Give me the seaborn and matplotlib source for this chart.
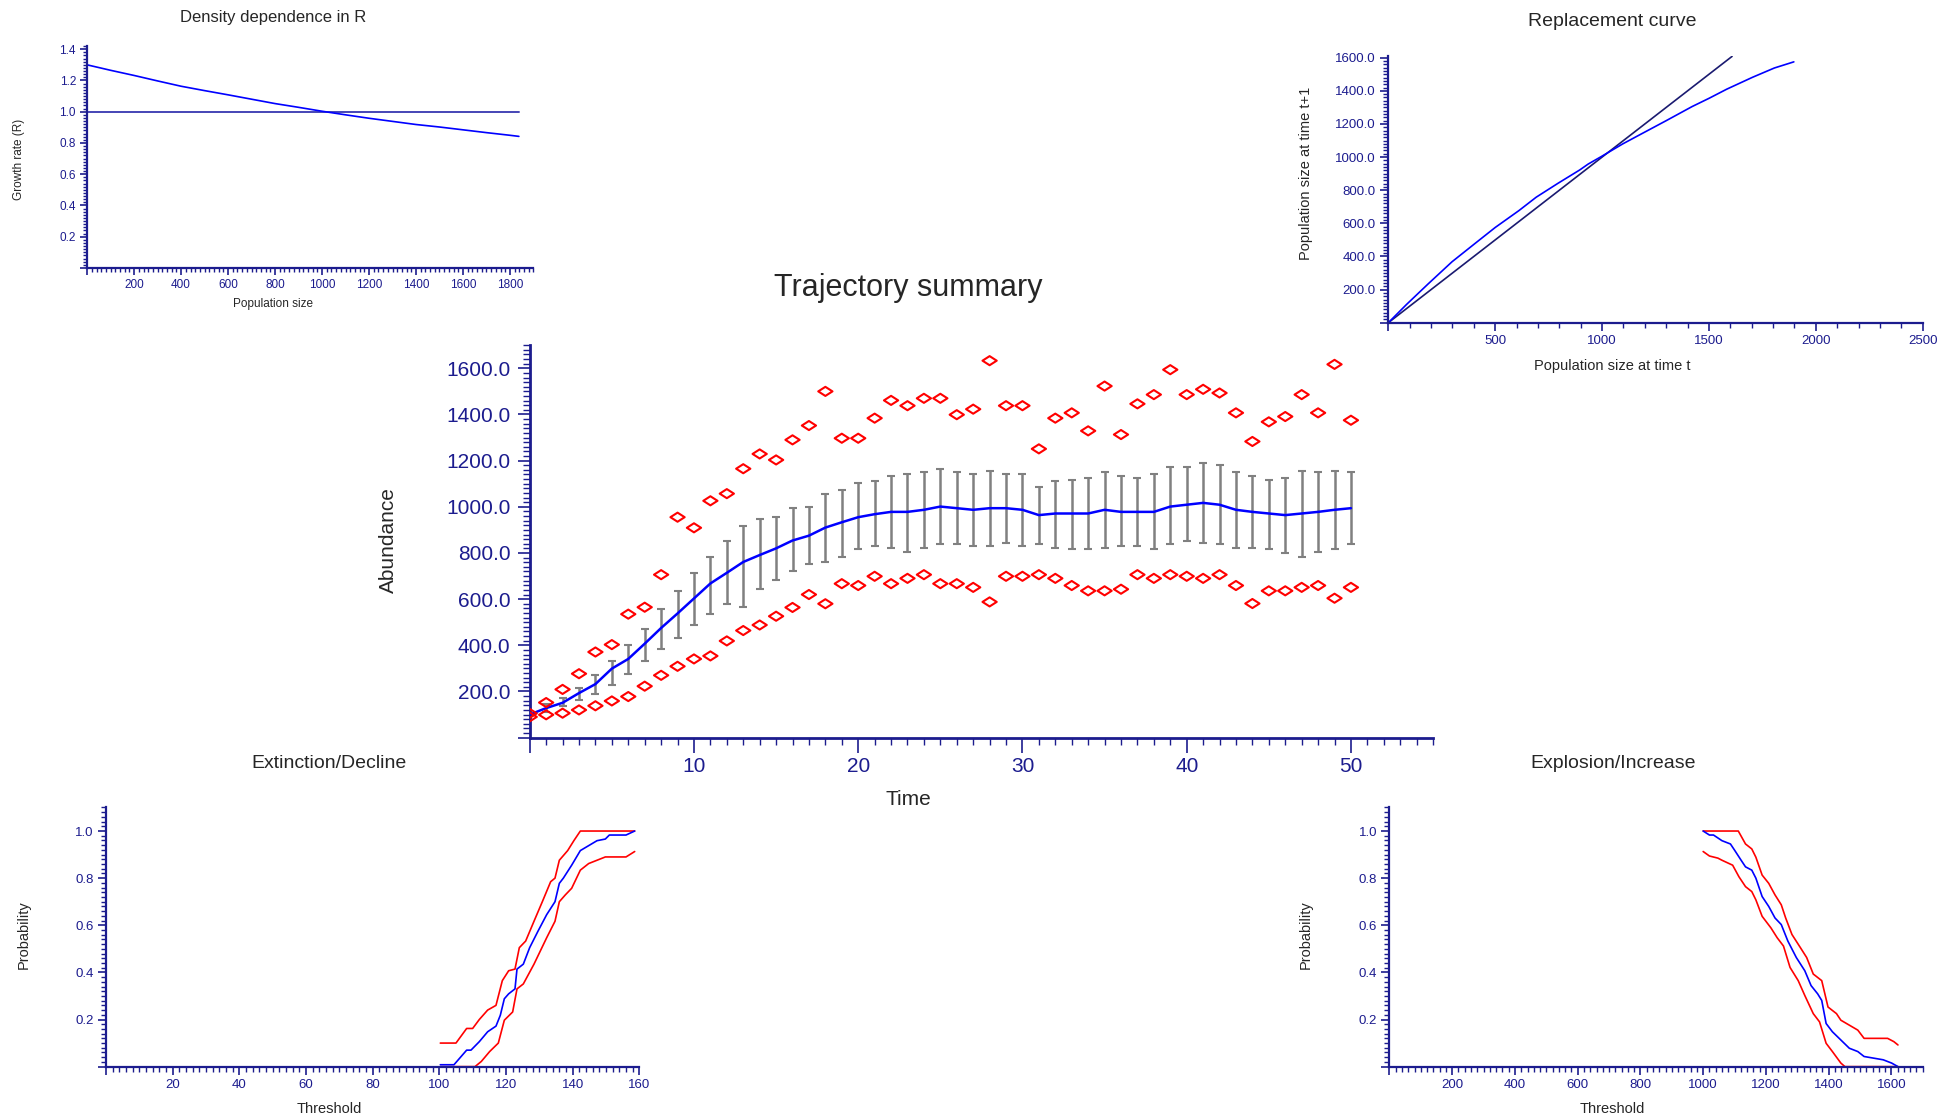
import numpy as np
import pandas as pd
import matplotlib
matplotlib.use("Agg")
import matplotlib.pyplot as plt
import seaborn as sns
from matplotlib.ticker import MultipleLocator, FuncFormatter
from matplotlib.path import Path

# ---------------- data : trajectory summary ----------------
time = list(range(51))
mean_abund = [100, 128, 151, 193, 232, 299, 341, 407, 475, 538, 603, 668, 714, 761, 791, 820, 854, 875, 910, 933,
              955, 968, 978, 978, 987, 1001, 994, 987, 994, 994, 987, 964, 971, 971, 971, 987, 978, 978, 978, 1001,
              1009, 1017, 1009, 987, 978, 971, 964, 971, 978, 987, 994]
err_high = [100, 146, 172, 216, 270, 332, 400, 472, 558, 636, 714, 784, 854, 917, 949, 955, 996, 1001, 1057, 1072,
            1103, 1110, 1133, 1141, 1151, 1165, 1149, 1142, 1157, 1142, 1142, 1087, 1110, 1117, 1126, 1149, 1133, 1126,
            1142, 1172, 1172, 1188, 1180, 1149, 1133, 1117, 1126, 1157, 1149, 1157, 1149]
err_low = [100, 110, 135, 161, 190, 230, 277, 332, 386, 432, 487, 535, 581, 564, 643, 683, 722, 752, 759, 784,
           816, 830, 823, 806, 823, 838, 838, 830, 830, 845, 830, 838, 823, 816, 816, 823, 830, 830, 816, 838,
           854, 845, 838, 823, 823, 816, 799, 784, 806, 816, 838]
max_abund = [105, 152, 209, 277, 371, 403, 535, 565, 706, 955, 909, 1026, 1057, 1165, 1229, 1203, 1290, 1352, 1500,
             1297, 1297, 1384, 1461, 1438, 1470, 1470, 1399, 1423, 1633, 1438, 1438, 1251, 1384, 1407, 1329, 1523,
             1313, 1446, 1486, 1594, 1486, 1509, 1493, 1407, 1283, 1368, 1391, 1486, 1407, 1617, 1375]
min_abund = [90, 99, 106, 120, 138, 159, 178, 223, 270, 309, 341, 354, 419, 464, 488, 526, 564, 620, 580, 667,
             659, 699, 667, 690, 706, 667, 667, 651, 588, 699, 699, 706, 690, 659, 636, 636, 643, 706, 690, 706,
             699, 690, 706, 659, 581, 636, 636, 651, 659, 604, 651]

# ---------------- data : density dependence ----------------
dd_pop = [0, 100, 200, 300, 400, 500, 600, 700, 800, 900, 1000, 1100, 1200, 1300, 1400, 1500, 1600, 1700, 1800, 1838]
dd_R = [1.30, 1.265, 1.232, 1.197, 1.163, 1.135, 1.108, 1.080, 1.052, 1.028, 1.003, 0.980, 0.958, 0.938, 0.918,
        0.902, 0.884, 0.866, 0.849, 0.842]
dd_ref_pop = [0, 1838]
dd_ref_R = [1.0, 1.0]

# ---------------- data : replacement curve ----------------
rep_nt = [0, 85, 186, 298, 409, 500, 611, 692, 794, 895, 935, 996, 1097, 1178, 1300, 1421, 1502, 1583, 1704, 1806, 1897]
rep_nt1 = [0, 110, 234, 368, 482, 575, 677, 758, 842, 922, 958, 1003, 1080, 1136, 1220, 1305, 1356, 1410, 1482, 1538, 1575]
rep_id_x = [0, 500, 1000, 1608]
rep_id_y = [0, 500, 1000, 1608]

# ---------------- data : extinction / decline ----------------
ext_mid_x = [100.3, 104.4, 108.2, 109.5, 112, 114.5, 117, 118.3, 119.5, 120.8, 122.7, 123.3, 125.2, 127.1, 129.6,
             132.2, 134.7, 136, 137.2, 139.7, 142.3, 144.8, 147.3, 149.8, 151, 156, 158.6]
ext_mid_y = [0.008, 0.008, 0.07, 0.07, 0.106, 0.148, 0.172, 0.218, 0.288, 0.309, 0.33, 0.414, 0.435, 0.505, 0.575,
             0.645, 0.70, 0.778, 0.80, 0.855, 0.917, 0.938, 0.959, 0.966, 0.983, 0.983, 1.0]
ext_up_x = [100.3, 105, 108.2, 110, 112, 114.5, 117, 118.9, 120.8, 122.7, 124, 125.9, 128.4, 130.9, 133.4, 134.7,
            136, 138.5, 140.4, 142.3, 158.6]
ext_up_y = [0.1, 0.1, 0.162, 0.162, 0.2, 0.24, 0.26, 0.365, 0.407, 0.414, 0.505, 0.533, 0.617, 0.70, 0.785, 0.80,
            0.876, 0.917, 0.96, 1.0, 1.0]
ext_lo_x = [100.3, 110.7, 112.6, 115.1, 117.7, 119.5, 122, 123.3, 125.2, 128.4, 132.2, 134.7, 136, 137.8, 139.7,
            142.3, 144.8, 147.3, 149.8, 156, 158.6]
ext_lo_y = [0, 0, 0.022, 0.064, 0.10, 0.197, 0.232, 0.33, 0.351, 0.435, 0.547, 0.617, 0.70, 0.729, 0.757, 0.834,
            0.862, 0.876, 0.89, 0.89, 0.913]

# ---------------- data : explosion / increase ----------------
exp_mid_x = [1000, 1020, 1033, 1060, 1087, 1101, 1121, 1135, 1155, 1168, 1188, 1209, 1229, 1249, 1270, 1297, 1324,
             1344, 1365, 1378, 1392, 1412, 1439, 1466, 1493, 1513, 1574, 1601, 1621]
exp_mid_y = [1.0, 0.983, 0.983, 0.959, 0.945, 0.917, 0.876, 0.848, 0.834, 0.80, 0.722, 0.68, 0.631, 0.603, 0.533,
             0.463, 0.407, 0.344, 0.309, 0.281, 0.183, 0.148, 0.113, 0.078, 0.064, 0.043, 0.029, 0.015, 0.0]
exp_up_x = [1000, 1112, 1135, 1155, 1168, 1188, 1209, 1229, 1249, 1263, 1283, 1310, 1330, 1351, 1378, 1398, 1425,
            1439, 1466, 1493, 1513, 1588, 1608, 1621]
exp_up_y = [1.0, 1.0, 0.945, 0.924, 0.889, 0.813, 0.778, 0.729, 0.687, 0.631, 0.561, 0.505, 0.463, 0.393, 0.365,
            0.253, 0.225, 0.197, 0.176, 0.155, 0.12, 0.12, 0.106, 0.092]
exp_lo_x = [1000, 1020, 1047, 1060, 1094, 1114, 1135, 1155, 1168, 1188, 1216, 1236, 1256, 1277, 1303, 1324, 1351,
            1371, 1392, 1412, 1439, 1452, 1621]
exp_lo_y = [0.913, 0.894, 0.885, 0.876, 0.855, 0.806, 0.764, 0.743, 0.708, 0.638, 0.589, 0.547, 0.512, 0.421, 0.365,
            0.302, 0.225, 0.19, 0.099, 0.064, 0.015, 0.0, 0.0]

# ---------------- styling ----------------
sns.set_theme(style="ticks")
plt.rcParams['font.family'] = ['Liberation Sans', 'DejaVu Sans']

NAVY = '#1c1c8e'
BLUE = '#0000ff'
RED = '#ff0000'
GRAY = '#808080'

fig = plt.figure(figsize=(19.54, 11.19), dpi=100)
fig.patch.set_facecolor('white')


def fmt_factory(decimals):
    def f(v, p):
        if abs(v) < 1e-9:
            return ''
        return f'{v:.{decimals}f}'
    return FuncFormatter(f)


def style_axis(ax, xlim, ylim, xmaj, xmin, ymaj, ymin, xdec, ydec, fs, maj_len, min_len, lw=1.6):
    ax.set_xlim(*xlim)
    ax.set_ylim(*ylim)
    ax.set_facecolor('white')
    sns.despine(ax=ax)
    for s in ('left', 'bottom'):
        ax.spines[s].set_color(NAVY)
        ax.spines[s].set_linewidth(lw)
    ax.xaxis.set_major_locator(MultipleLocator(xmaj))
    ax.xaxis.set_minor_locator(MultipleLocator(xmin))
    ax.yaxis.set_major_locator(MultipleLocator(ymaj))
    ax.yaxis.set_minor_locator(MultipleLocator(ymin))
    ax.xaxis.set_major_formatter(fmt_factory(xdec))
    ax.yaxis.set_major_formatter(fmt_factory(ydec))
    ax.tick_params(which='major', direction='out', length=maj_len, width=1.2, color=NAVY,
                   labelcolor=NAVY, labelsize=fs, pad=3)
    ax.tick_params(which='minor', direction='out', length=min_len, width=1.0, color=NAVY)
    ax.set_xlabel('')
    ax.set_ylabel('')
    ax.grid(False)


# ---------------- top-left: density dependence ----------------
ax_dd = fig.add_axes([0.0446, 0.7606, 0.2284, 0.1982])
sns.lineplot(x=dd_ref_pop, y=dd_ref_R, ax=ax_dd, color='#4545b5', lw=1.4, estimator=None)
sns.lineplot(x=dd_pop, y=dd_R, ax=ax_dd, color=BLUE, lw=1.2, estimator=None)
style_axis(ax_dd, (0, 1900), (0, 1.42), 200, 20, 0.2, 0.02, 0, 1, 8.5, 5, 3)
fig.text(0.1397, 0.9844, 'Density dependence in R', ha='center', va='center', fontsize=12)
fig.text(0.1397, 0.7283, 'Population size', ha='center', va='center', fontsize=8.5)
fig.text(0.0096, 0.8575, 'Growth rate (R)', ha='center', va='center', rotation=90, fontsize=8.5)

# ---------------- top-right: replacement curve ----------------
ax_rep = fig.add_axes([0.7105, 0.7116, 0.2735, 0.2383])
sns.lineplot(x=rep_id_x, y=rep_id_y, ax=ax_rep, color='#1a1a70', lw=1.2, estimator=None, sort=False)
sns.lineplot(x=rep_nt, y=rep_nt1, ax=ax_rep, color=BLUE, lw=1.2, estimator=None, sort=False)
style_axis(ax_rep, (0, 2500), (0, 1610), 500, 100, 200, 20, 0, 1, 9.5, 6, 3.5)
fig.text(0.8253, 0.9810, 'Replacement curve', ha='center', va='center', fontsize=14)
fig.text(0.8253, 0.6726, 'Population size at time t', ha='center', va='center', fontsize=10.5)
fig.text(0.6684, 0.8452, 'Population size at time t+1', ha='center', va='center', rotation=90, fontsize=10.5)

# ---------------- main: trajectory summary ----------------
ax_m = fig.add_axes([0.2711, 0.3408, 0.4623, 0.3507])
diamond = Path([(-1, 0), (0, 0.64), (1, 0), (0, -0.64), (-1, 0)],
               [Path.MOVETO, Path.LINETO, Path.LINETO, Path.LINETO, Path.CLOSEPOLY])
m_arr = np.array(mean_abund, dtype=float)
lo_arr = np.array(err_low, dtype=float)
hi_arr = np.array(err_high, dtype=float)
ax_m.errorbar(time, m_arr, yerr=[m_arr - lo_arr, hi_arr - m_arr], fmt='none', ecolor=GRAY,
              elinewidth=1.8, capsize=3, capthick=1.5, zorder=2)
sns.lineplot(x=time, y=mean_abund, ax=ax_m, color=BLUE, lw=1.8, estimator=None, zorder=3)
sns.scatterplot(x=time, y=max_abund, ax=ax_m, marker=diamond, s=105, color=RED, facecolor='none',
                edgecolor=RED, linewidth=1.5, zorder=4)
sns.scatterplot(x=time, y=min_abund, ax=ax_m, marker=diamond, s=105, color=RED, facecolor='none',
                edgecolor=RED, linewidth=1.5, zorder=4)
style_axis(ax_m, (0, 55), (0, 1700), 10, 1, 200, 20, 0, 1, 15, 9, 5, lw=2.0)
ax_m.tick_params(axis='x', which='major', length=11, pad=3)
ax_m.tick_params(axis='y', which='major', pad=5)
fig.text(0.4650, 0.7428, 'Trajectory summary', ha='center', va='center', fontsize=22)
fig.text(0.4650, 0.2851, 'Time', ha='center', va='center', fontsize=15)
fig.text(0.1990, 0.5178, 'Abundance', ha='center', va='center', rotation=90, fontsize=15)

# ---------------- bottom-left: extinction / decline ----------------
ax_ext = fig.add_axes([0.0542, 0.0468, 0.2730, 0.2316])
sns.lineplot(x=ext_up_x, y=ext_up_y, ax=ax_ext, color=RED, lw=1.2, estimator=None, sort=False)
sns.lineplot(x=ext_lo_x, y=ext_lo_y, ax=ax_ext, color=RED, lw=1.2, estimator=None, sort=False)
sns.lineplot(x=ext_mid_x, y=ext_mid_y, ax=ax_ext, color=BLUE, lw=1.2, estimator=None, sort=False)
style_axis(ax_ext, (0, 160), (0, 1.1), 20, 2, 0.2, 0.02, 0, 1, 9.5, 6, 3.5)
fig.text(0.1684, 0.3174, 'Extinction/Decline', ha='center', va='center', fontsize=14)
fig.text(0.1684, 0.0089, 'Threshold', ha='center', va='center', fontsize=10.5)
fig.text(0.0121, 0.1648, 'Probability', ha='center', va='center', rotation=90, fontsize=10.5)

# ---------------- bottom-right: explosion / increase ----------------
ax_exp = fig.add_axes([0.7111, 0.0468, 0.2729, 0.2316])
sns.lineplot(x=exp_up_x, y=exp_up_y, ax=ax_exp, color=RED, lw=1.2, estimator=None, sort=False)
sns.lineplot(x=exp_lo_x, y=exp_lo_y, ax=ax_exp, color=RED, lw=1.2, estimator=None, sort=False)
sns.lineplot(x=exp_mid_x, y=exp_mid_y, ax=ax_exp, color=BLUE, lw=1.2, estimator=None, sort=False)
style_axis(ax_exp, (0, 1700), (0, 1.1), 200, 20, 0.2, 0.02, 0, 1, 9.5, 6, 3.5)
fig.text(0.8253, 0.3174, 'Explosion/Increase', ha='center', va='center', fontsize=14)
fig.text(0.8253, 0.0089, 'Threshold', ha='center', va='center', fontsize=10.5)
fig.text(0.6684, 0.1648, 'Probability', ha='center', va='center', rotation=90, fontsize=10.5)

fig.savefig('out.png', dpi=100, facecolor='white')
